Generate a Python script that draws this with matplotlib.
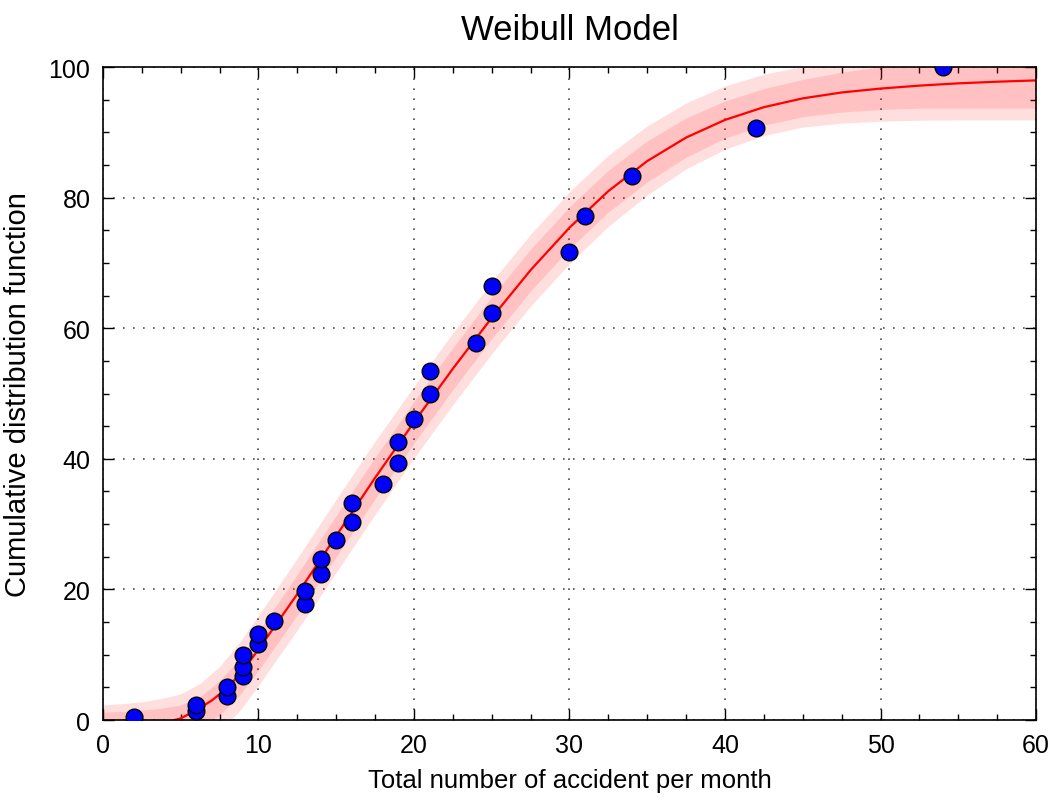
import matplotlib
matplotlib.use("Agg")
import matplotlib.pyplot as plt
from matplotlib.ticker import MultipleLocator

plt.rcParams['font.family'] = ['Liberation Sans', 'DejaVu Sans']

# observed data points
obs_x = [2, 6, 6, 8, 8, 9, 9, 9, 10, 10, 11, 13, 13, 14, 14, 15, 16, 16, 18, 19, 19,
         20, 21, 21, 24, 25, 25, 30, 31, 34, 42, 54]
obs_y = [0.4, 1.4, 2.3, 3.7, 5.0, 6.8, 8.1, 10.0, 11.6, 13.2, 15.1, 17.7, 19.8, 22.4,
         24.7, 27.5, 30.4, 33.2, 36.2, 39.4, 42.5, 46.1, 49.9, 53.5, 57.7, 62.3, 66.5,
         71.7, 77.2, 83.3, 90.6, 100.0]

# fitted model curve
fit_x = [4.6, 5, 6, 7, 8, 9, 10, 11, 12.5, 15, 17.5, 20, 22.5, 25, 27.5, 30, 32.5, 35,
         37.5, 40, 42.5, 45, 47.5, 50, 52.5, 55, 57.5, 60]
fit_y = [0.0, 0.25, 1.5, 3.0, 4.9, 7.6, 10.8, 14.2, 19.3, 28.2, 37.1, 45.6, 53.8, 61.6,
         68.9, 75.4, 81.0, 85.6, 89.2, 91.9, 93.85, 95.2, 96.1, 96.7, 97.15, 97.5, 97.75,
         97.95]

# confidence bands
band_x = [0, 1.25, 2.5, 3.75, 5, 6.25, 7.5, 8.75, 10, 12.5, 15, 17.5, 20, 22.5, 25,
          27.5, 30, 32.5, 35, 37.5, 40, 42.5, 45, 47.5, 50, 52.5, 55, 57.5, 60]
outer_hi = [2.3, 2.5, 2.8, 3.3, 4.0, 5.6, 8.2, 11.8, 16.0, 24.8, 33.8, 42.7, 51.1, 59.3,
            67.1, 74.4, 80.9, 86.5, 91.0, 94.5, 97.1, 98.9, 100.1, 100.9, 101.4, 101.7,
            101.9, 102.1, 102.2]
inner_hi = [1.2, 1.3, 1.5, 1.8, 2.3, 3.6, 6.0, 9.3, 13.5, 22.3, 31.3, 40.2, 48.8, 57.0,
            64.8, 72.1, 78.6, 84.2, 88.7, 92.2, 94.8, 96.7, 98.1, 99.2, 100.0, 100.6,
            101.0, 101.2, 101.3]
inner_lo = [-1.2, -1.3, -1.5, -1.8, -2.0, -1.2, 0.8, 3.7, 7.6, 16.1, 25.0, 33.9, 42.4,
            50.6, 58.4, 65.7, 72.2, 77.8, 82.4, 86.2, 89.1, 91.1, 92.4, 93.1, 93.5, 93.7,
            93.7, 93.7, 93.7]
outer_lo = [-2.3, -2.5, -2.8, -3.3, -3.8, -3.5, -1.6, 1.3, 5.3, 13.8, 22.6, 31.5, 40.1,
            48.3, 56.1, 63.4, 69.9, 75.6, 80.4, 84.4, 87.4, 89.5, 90.8, 91.4, 91.7, 91.85,
            91.9, 91.9, 91.9]

fig = plt.figure(figsize=(10.55, 8.03), dpi=100)
ax = fig.add_axes([0.0976, 0.1021, 0.8844, 0.8132])

ax.fill_between(band_x, outer_lo, outer_hi, color='red', alpha=0.13, linewidth=0, zorder=1)
ax.fill_between(band_x, inner_lo, inner_hi, color='red', alpha=0.13, linewidth=0, zorder=1)
ax.plot(fit_x, fit_y, color='red', linewidth=1.6, zorder=2)
ax.plot(obs_x, obs_y, 'o', color='blue', markersize=12, markeredgecolor='black',
        markeredgewidth=1.0, zorder=3)

ax.set_xlim(0, 60)
ax.set_ylim(0, 100)
ax.xaxis.set_major_locator(MultipleLocator(10))
ax.xaxis.set_minor_locator(MultipleLocator(2.5))
ax.yaxis.set_major_locator(MultipleLocator(20))
ax.yaxis.set_minor_locator(MultipleLocator(5))
ax.tick_params(which='both', direction='in', top=True, right=True, labelsize=18)
ax.tick_params(which='major', length=8, width=1, pad=9)
ax.tick_params(which='minor', length=4, width=1)
ax.grid(True, which='major', color='0.3', linewidth=1.2, linestyle=(0, (1, 5)))
ax.set_axisbelow(True)
for s in ax.spines.values():
    s.set_linewidth(1.2)

ax.set_title('Weibull Model', fontsize=25, pad=20)
ax.set_xlabel('Total number of accident per month', fontsize=18.5, labelpad=8)
ax.set_ylabel('Cumulative distribution function', fontsize=21, labelpad=12)

fig.savefig('out.png', dpi=100)
